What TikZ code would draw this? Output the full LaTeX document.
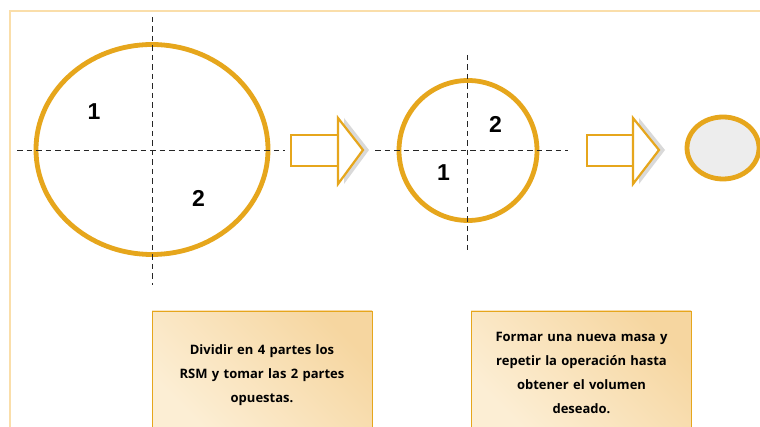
\documentclass[tikz,border=0pt]{standalone}
\usepackage{fontspec}
\setmainfont{Open Sans}
\newfontfamily\digitfont{Liberation Sans}
\usetikzlibrary{shapes.geometric}
\begin{document}
\begin{tikzpicture}[x=1pt,y=-1pt,
  ring/.style={draw=gold,line width=4.8pt},
  axis/.style={draw=black!85,line width=0.9pt,dash pattern=on 5.5pt off 4pt},
  num/.style={font=\digitfont\bfseries\fontsize{23}{23}\selectfont,inner sep=0pt},
  arrowpart/.style={draw=gold,line width=2.2pt,fill=white,line join=miter},
  shadowpart/.style={fill=black!15,draw=none},
  note/.style={draw=gold,line width=0.8pt,left color=cream1,right color=cream2,
     shading angle=135,minimum width=220pt,minimum height=116pt,anchor=north west,
     inner sep=0pt,outer sep=0pt},
  notetext/.style={font=\bfseries\fontsize{13}{24}\selectfont,align=center,text width=215pt}
]
\definecolor{gold}{RGB}{230,166,28}
\definecolor{frame}{RGB}{250,222,170}
\definecolor{cream1}{RGB}{252,238,212}
\definecolor{cream2}{RGB}{246,214,160}
\useasboundingbox (0,0) rectangle (760,427);
\fill[white] (0,0) rectangle (760,427);
% frame
\coordinate (f1) at (10,427);
\coordinate (f2) at (10,11);
\coordinate (f3) at (760,11);
\draw[frame,line width=1.5pt] (f1) -- (f2) -- (f3);

% big circle
\node[ring,ellipse,minimum width=232pt,minimum height=210pt,inner sep=0pt] (c1) at (152,149.5) {};
\coordinate (v1a) at (152,17); \coordinate (v1b) at (152,285);
\coordinate (h1a) at (17,150); \coordinate (h1b) at (285,150);
\draw[axis] (v1a) -- (v1b);
\draw[axis] (h1a) -- (h1b);
\node[num] (n11) at (94,111.5) {1};
\node[num] (n12) at (198.5,198) {2};

% arrow 1
\fill[shadowpart] (344,118) -- (369,150) -- (344,184) -- cycle;
\draw[arrowpart] (291,135) rectangle (338,166);
\draw[arrowpart] (338,118) -- (363,150) -- (338,184) -- cycle;

% second circle
\node[ring,ellipse,minimum width=138pt,minimum height=140pt,inner sep=0pt] (c2) at (468,150.5) {};
\coordinate (v2a) at (467,55); \coordinate (v2b) at (467,250);
\coordinate (h2a) at (375,150); \coordinate (h2b) at (568,150);
\draw[axis] (v2a) -- (v2b);
\draw[axis] (h2a) -- (h2b);
\node[num] (n22) at (495.5,124) {2};
\node[num] (n21) at (443.5,172.5) {1};

% arrow 2
\fill[shadowpart] (639,118) -- (665,150) -- (639,184) -- cycle;
\draw[arrowpart] (587,135) rectangle (633,166);
\draw[arrowpart] (633,118) -- (659,150) -- (633,184) -- cycle;

% small ellipse
\node[ring,ellipse,fill=black!7,minimum width=72pt,minimum height=62pt,inner sep=0pt] (c3) at (723,148) {};

% notes
\node[note] (b1) at (152,311) {};
\node[notetext] (t1) at (262,375.5) {Dividir en 4 partes los\\RSM y tomar las 2 partes\\opuestas.};
\node[note] (b2) at (471,311) {};
\node[notetext] (t2) at (581.5,372.5) {Formar una nueva masa y\\repetir la operación hasta\\obtener el volumen\\deseado.};
\end{tikzpicture}
\end{document}
